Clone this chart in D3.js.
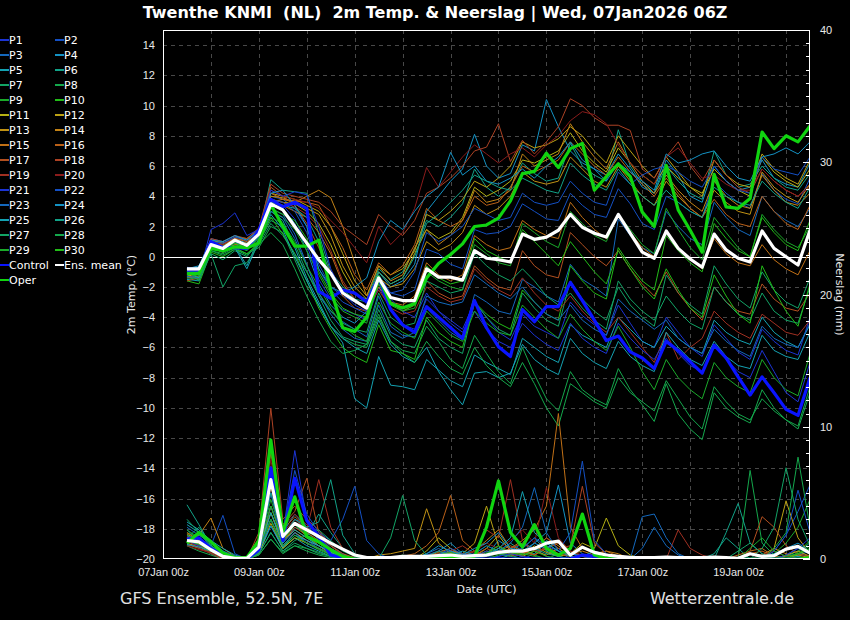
<!DOCTYPE html>
<html>
<head>
<meta charset="utf-8">
<title>Twenthe KNMI 2m Temp. & Neerslag</title>
<script src="https://cdnjs.cloudflare.com/ajax/libs/d3/7.8.5/d3.min.js"></script>
<style>
  body { margin: 0; background: #000; }
  svg { display: block; font-family: "DejaVu Sans", sans-serif; }
  .grid line { stroke: #484848; stroke-width: 1; stroke-dasharray: 4,4; shape-rendering: crispEdges; }
  .axis text { fill: #e8e8e8; font-size: 11px; }
  .axis path, .axis line { display: none; }
  .legend text { fill: #fff; font-size: 11px; }
</style>
</head>
<body>
<svg id="chart" width="850" height="620"></svg>
<script>
// forecast hours after the 07Jan2026 06Z run
const hours = [6,12,18,24,30,36,42,48,54,60,66,72,78,84,90,96,102,108,114,120,126,132,138,144,150,156,162,168,174,180,186,192,198,204,210,216,222,228,234,240,246,252,258,264,270,276,282,288,294,300,306,312,318];

// 2m temperature (°C), one array per member
const tP1 = [-1.2,-1.0,0.9,0.6,0.9,0.6,1.6,3.6,3.4,2.5,0.8, -1.5,-2.8,-3.5,-3.8,-4.2,-2.0,-3.5,-4.5,-4.8, -2.8,-3.6,-4.2,-4.8, -3.0,-4.0,-5.0,-5.5, -3.8,-4.6,-5.0,-5.4, -3.0,-3.9,-4.5,-5.2, -3.2,-4.4,-5.6,-6.0, -4.0,-5.0,-6.0,-6.6, -4.5,-5.4,-6.3,-6.8, -4.8,-5.6,-6.2,-6.5, -4.0];
const tP2 = [-0.9,-0.7,1.2,1.0,1.4,1.0,1.8,4.0,3.8,3.2,2.0, -0.5,-2.0,-2.6,-3.0,-3.4,-1.2,-2.4,-2.6,-2.2, 0.5,0.2,-0.5,-0.8, 1.8,1.5,1.6,2.0, 3.5,3.0,2.5,2.4, 4.2,3.4,2.8,2.6, 4.5,3.5,2.2,1.8, 4.0,3.6,3.0,2.6, 5.0,4.2,3.6,3.2, 5.5,4.4,3.8,3.5, 5.2];
const tP3 = [-1.4,-1.3,0.7,0.5,0.8,0.5,1.4,3.2,2.8,1.5,-0.5, -2.6,-3.6,-4.3,-4.8,-5.3,-2.6,-4.6,-5.2,-5.3, -3.4,-4.2,-5.0,-5.5, -2.5,-3.0,-3.6,-3.8, -1.5,-2.0,-2.6,-3.0, -0.5,-1.5,-2.0,-2.6, 2.5,1.4,0.6,0.2, 3.0,2.0,1.2,0.8, 3.6,2.6,1.8,1.4, 4.0,3.0,2.4,2.0, 3.2];
const tP4 = [-0.8,-0.6,1.1,0.9,1.2,0.9,1.6,3.4,3.2,2.2,0.4, -1.8,-3.2,-4.0,-4.4,-3.6,-1.0,-2.0,-1.6,-0.5, 3.0,4.0,5.0,5.8, 8.1,6.0,5.2,5.5, 7.4,7.0,10.4,8.6, 7.0,6.2,5.8,5.4, 6.8,5.8,4.6,4.2, 6.4,5.4,4.0,3.6, 6.0,5.0,4.4,4.6, 6.4,5.2,4.8,4.6, 6.2];
const tP5 = [-1.5,-1.6,0.6,0.3,0.7,-0.6,1.2,3.0,2.4,0.6,-1.4, -3.0,-4.6,-5.7,-9.4,-10.0,-6.6,-8.5,-8.6,-8.8, -6.8,-7.5,-8.2,-8.6, -6.5,-7.0,-7.4,-7.8, -5.4,-6.0,-6.6,-7.0, -4.5,-5.2,-5.6,-6.0, -4.0,-4.8,-5.6,-6.0, -4.6,-5.4,-6.0,-6.4, -4.2,-5.0,-5.5,-5.8, -4.0,-5.0,-5.6,-6.0, -4.5];
const tP6 = [-1.0,-1.2,0.8,0.6,1.0,0.4,1.5,5.1,4.4,4.3,4.2, 1.5,-1.0,-2.0,-2.5,-2.8,-0.8,-1.5,-1.0,0.5, 2.4,2.0,2.6,3.5, 5.8,4.6,4.0,4.6, 6.2,5.5,5.0,5.2, 7.5,6.0,5.4,5.0, 8.4,6.0,4.8,4.2, 6.0,5.0,4.2,3.8, 7.0,5.4,4.6,4.8, 6.0,5.2,4.6,4.4, 5.5];
const tP7 = [-1.3,-1.4,0.2,-0.2,0.4,0.0,1.0,2.4,2.0,0.8,-1.0, -2.6,-4.2,-5.3,-5.6,-5.8,-3.5,-5.2,-5.8,-6.0, -4.2,-5.4,-6.0,-6.4, -3.0,-4.0,-4.8,-5.2, -2.4,-3.4,-4.2,-4.6, -1.6,-2.8,-3.6,-4.2, -2.0,-3.2,-4.0,-4.6, -1.2,-2.4,-3.2,-3.8, -0.6,-1.8,-2.8,-3.4, -1.0,-2.2,-3.0,-3.4, -1.4];
const tP8 = [-1.2,-1.5,0.4,0.2,0.6,0.2,0.6,2.0,1.6,-0.2,-2.0, -3.2,-4.6,-5.4,-5.8,-6.0,-4.0,-5.6,-6.2,-6.4, -4.6,-5.6,-6.8,-7.4, -5.2,-6.4,-7.6,-8.4, -6.0,-7.8,-9.4,-10.2, -7.6,-8.8,-9.4,-9.8, -7.4,-8.8,-9.8,-10.9, -8.4,-10.4,-11.4,-12.1, -9.0,-10.0,-10.6,-11.0, -8.8,-10.0,-10.8,-11.4, -9.0];
const tP9 = [-1.1,-1.2,0.5,0.4,0.9,0.5,1.2,3.0,2.6,1.8,0.4, -1.2,-2.6,-3.6,-4.0,-4.4,-1.6,-3.0,-3.6,-3.4, -1.0,-1.6,-2.0,-2.2, 0.8,0.2,-0.4,-0.6, 2.2,1.6,1.0,0.6, 3.0,2.2,1.4,1.0, 2.8,1.8,0.8,0.2, 3.2,1.8,0.6,-0.2, 2.6,1.6,0.6,0.0, 2.8,1.8,1.0,0.6, 2.0];
const tP10 = [-1.6,-1.8,0.3,0.0,0.5,0.2,0.9,2.6,1.5,0.2,-1.6, -3.4,-4.8,-6.0,-6.6,-7.0,-4.5,-6.2,-6.4,-6.8, -4.0,-5.0,-5.6,-6.0, -3.0,-3.8,-4.4,-4.8, -2.2,-3.0,-3.8,-4.2, -0.6,-1.6,-2.4,-2.8, 0.6,-0.6,-1.6,-2.2, 1.4,0.4,-0.4,-1.0, 2.2,1.2,0.4,0.0, 2.6,1.6,0.8,0.4, 2.4];
const tP11 = [-1.3,-1.1,0.9,0.8,1.1,0.7,1.6,3.8,3.6,3.5,3.0, 2.2,0.8,-1.0,-2.4,-3.0,-1.0,-1.8,-1.4,0.2, 1.8,1.2,1.6,2.6, 4.6,4.0,4.4,5.0, 6.4,6.2,6.6,7.0, 8.2,7.0,6.2,5.6, 7.2,6.2,5.4,4.8, 6.0,5.2,4.6,4.2, 5.8,5.0,4.4,4.0, 6.6,5.6,5.0,4.6, 5.8];
const tP12 = [-1.0,-0.9,1.0,0.8,1.3,1.2,1.8,4.2,4.0,3.8,3.4, 3.0,2.0,0.2,-1.6,-2.6,-0.6,-1.2,-0.8,0.4, 2.8,2.4,3.0,3.8, 5.0,4.6,5.2,6.0, 7.6,7.2,7.4,7.8, 8.6,8.0,7.0,6.2, 8.0,7.0,6.0,5.2, 6.6,5.6,4.6,4.0, 6.4,5.4,4.8,4.6, 6.8,5.8,5.2,4.8, 6.4];
const tP13 = [-1.2,-0.8,1.1,0.9,1.2,1.1,1.7,4.0,3.9,3.6,3.2, 2.8,1.4,-0.6,-2.0,-2.8,-1.4,-2.0,-1.8,-0.8, 1.0,0.4,0.8,1.6, 3.4,2.8,3.2,4.0, 5.6,5.0,4.8,5.0, 6.6,5.8,5.0,4.6, 6.0,5.0,4.0,3.4, 5.0,4.0,3.2,2.6, 4.4,3.6,3.0,2.8, 5.6,4.6,4.0,3.6, 4.8];
const tP14 = [-0.9,-1.0,0.8,0.7,1.0,0.9,1.5,3.6,3.8,3.6,4.0, 4.4,3.9,2.0,-0.4,-2.6,-0.6,-1.6,-1.2,0.6, 1.8,0.8,1.4,2.4, 4.4,3.6,3.8,4.4, 6.8,6.0,6.4,6.8, 8.8,7.6,6.6,5.8, 7.6,6.2,5.0,4.2, 5.4,4.4,3.6,3.0, 5.0,4.0,3.4,3.2, 5.4,4.4,3.6,3.4, 4.2];
const tP15 = [-1.4,-1.3,0.6,0.3,0.8,0.8,1.4,3.6,3.4,3.0,2.6, 1.6,0.2,-1.8,-2.8,-3.4,-2.0,-3.0,-3.2,-2.6, -0.4,-1.2,-1.6,-1.2, 1.4,0.8,0.4,0.6, 2.4,1.8,1.4,1.2, 3.6,2.6,1.8,1.2, 2.8,1.6,0.6,0.0, 1.6,0.6,-0.2,-0.8, 1.2,0.2,-0.4,-0.6, 0.8,-0.2,-0.8,-1.2, 0.4];
const tP16 = [-1.1,-1.0,1.0,0.8,1.2,1.0,1.6,4.2,3.8,3.7,3.6, 3.4,2.0,0.6,-1.2,-2.2,-0.4,-1.2,-0.6,0.8, 3.2,2.4,2.0,2.4, 4.0,3.4,3.6,4.6, 6.0,5.6,6.0,6.4, 7.6,6.8,6.0,5.4, 6.6,5.6,4.8,4.0, 5.2,4.2,3.2,2.6, 3.8,2.8,2.2,2.0, 4.0,3.0,2.2,1.8, 3.4];
const tP17 = [-1.6,-1.4,0.7,0.6,1.0,0.8,1.6,4.6,4.0,3.4,2.2, 0.6,-1.0,-2.6,-3.4,-3.6,-1.8,-3.0,-3.6,-3.2, -1.6,-2.4,-2.8,-2.6, -0.6,-1.4,-2.0,-2.2, 0.4,-0.6,-1.2,-1.4, 1.6,0.8,0.0,-0.6, 0.4,-0.8,-1.8,-2.6, -1.0,-2.4,-3.4,-4.2, -2.0,-3.0,-3.6,-3.8, -1.8,-2.8,-3.4,-3.6, -2.4];
const tP18 = [-0.8,-0.9,1.2,1.0,1.4,1.2,1.9,4.8,4.2,4.0,3.8, 3.6,3.0,2.0,1.4,0.8,2.8,2.0,1.4,2.4, 4.2,4.6,5.2,6.0, 7.0,7.25,8.8,6.3, 7.7,6.8,7.6,8.6, 10.45,10.0,9.2,8.7, 8.7,8.35,5.8,5.2, 6.6,7.6,6.0,5.0, 6.4,5.4,4.6,4.2, 5.8,5.0,4.4,4.0, 4.8];
const tP19 = [-1.0,-1.1,0.9,0.7,1.1,0.8,1.5,3.8,3.6,3.3,2.8, 2.0,0.4,-1.6,-2.8,-3.6,-2.2,-3.4,-3.8,-3.6, -2.0,-2.6,-3.0,-2.8, -0.8,-1.6,-2.2,-2.6, -1.4,-2.4,-3.2,-3.6, -2.6,-3.6,-4.4,-5.0, -4.0,-5.0,-6.0,-7.0, -5.0,-6.8,-6.0,-5.4, -3.6,-4.4,-5.0,-5.4, -3.8,-4.4,-5.0,-5.2, -4.2];
const tP20 = [-1.2,-1.0,1.0,0.8,1.3,1.1,1.8,4.4,4.0,3.8,3.6, 3.2,2.4,1.6,0.6,-0.4,2.0,0.8,1.6,3.2, 5.9,4.6,5.6,6.6, 7.4,6.8,6.2,6.8, 7.2,6.6,7.4,8.0, 9.0,9.6,9.4,8.8, 7.4,6.2,5.4,4.8, 6.6,7.2,6.2,5.2, 5.4,4.8,4.4,4.4, 5.8,5.0,4.4,4.0, 4.6];
const tP21 = [-1.1,-1.2,1.8,2.2,2.9,1.4,1.8,4.4,4.0,4.3,4.1, 2.0,-0.8,-2.4,-3.2,-3.6,-1.6,-2.8,-3.6,-4.0, -2.4,-3.6,-4.4,-5.0, -3.6,-4.8,-5.6,-6.0, -4.4,-5.2,-5.8,-6.2, -4.4,-5.4,-6.0,-6.4, -4.4,-5.4,-6.2,-6.8, -5.4,-6.4,-7.2,-7.6, -5.8,-6.8,-7.6,-8.0, -6.2,-7.6,-9.0,-9.6, -7.0];
const tP22 = [-0.7,-0.8,1.0,0.9,1.3,1.1,1.8,3.8,3.6,3.0,1.6, -0.8,-2.2,-3.0,-3.4,-3.8,-1.4,-2.4,-2.2,-1.0, 1.6,1.0,1.4,2.0, 3.2,2.8,2.4,2.6, 4.2,3.6,3.4,3.6, 5.0,4.2,3.6,3.4, 5.6,4.8,5.4,5.8, 6.0,5.6,5.0,4.6, 6.0,5.0,4.4,4.2, 6.6,5.8,5.6,5.4, 6.6];
const tP23 = [-1.3,-1.4,0.8,0.6,1.0,0.5,1.3,3.0,2.6,1.2,-0.6, -2.4,-3.8,-4.8,-5.4,-5.6,-3.2,-5.0,-5.4,-5.0, -2.6,-3.0,-3.2,-3.0, -1.2,-1.8,-2.4,-2.8, -2.0,-3.0,-3.8,-4.2, -3.2,-4.2,-4.8,-5.2, -2.8,-3.6,-4.2,-4.8, -4.2,-5.4,-6.0,-6.4, -4.8,-5.6,-6.2,-6.6, -4.6,-5.4,-5.8,-6.0, -4.4];
const tP24 = [-0.8,-0.7,1.1,1.0,1.4,1.1,1.7,4.2,4.4,3.4,2.0, -0.8,-2.0,-2.4,-2.0,-1.4,1.0,2.4,1.8,3.0, 4.0,4.6,6.9,5.4, 6.0,5.0,4.8,5.2, 5.8,5.2,6.0,6.6, 7.6,6.4,5.8,5.0, 6.2,5.6,5.0,4.4, 6.8,6.2,6.4,6.8, 7.0,6.0,5.2,5.0, 6.6,6.8,7.2,6.8, 7.6];
const tP25 = [-1.0,-1.4,0.5,0.4,0.6,-0.8,1.0,2.8,1.8,0.0,-1.6, -3.2,-4.6,-5.4,-6.0,-6.4,-4.2,-5.8,-6.6,-7.0, -6.0,-7.6,-8.8,-9.8, -7.7,-7.6,-8.0,-7.7, -5.8,-6.8,-7.4,-7.8, -5.4,-6.4,-7.0,-7.4, -5.6,-6.6,-7.2,-7.6, -5.0,-6.0,-6.8,-7.2, -5.6,-6.6,-7.2,-7.4, -5.2,-6.2,-6.6,-6.8, -5.0];
const tP26 = [-1.2,-1.0,0.9,0.7,1.1,0.8,1.5,3.6,3.4,3.2,2.6, 1.0,-1.2,-2.2,-2.8,-3.0,-1.0,-1.8,-1.4,0.0, 2.2,2.8,3.6,4.4, 5.4,5.0,4.6,4.4, 5.2,4.8,4.4,4.2, 6.2,5.4,4.8,4.4, 5.8,4.8,4.0,3.4, 4.4,3.6,3.0,2.6, 4.6,4.0,3.6,3.4, 5.0,4.2,3.6,3.2, 4.6];
const tP27 = [-0.9,-1.6,0.2,-2.0,-0.6,-0.4,0.8,2.2,1.4,0.2,-1.0, -2.4,-3.6,-4.4,-4.8,-5.0,-2.4,-4.0,-4.6,-4.4, -1.6,-2.0,-2.4,-2.2, 0.2,-0.6,-1.2,-1.6, -0.8,-1.6,-2.6,-3.2, -2.4,-3.4,-4.2,-4.8, -1.6,-2.8,-3.6,-4.2, -2.6,-3.6,-4.4,-4.8, -2.0,-3.0,-3.8,-4.2, -2.4,-3.6,-4.2,-4.4, -2.0];
const tP28 = [-1.4,-1.5,0.4,0.1,0.5,0.1,0.8,1.6,0.8,-0.8,-2.6, -4.2,-5.6,-6.4,-6.2,-5.8,-3.8,-5.6,-6.4,-7.0, -5.6,-6.6,-7.4,-7.8, -6.0,-7.2,-8.0,-8.6, -7.0,-8.4,-10.0,-11.2, -8.4,-9.0,-9.6,-10.0, -8.0,-9.0,-9.6,-10.2, -8.2,-9.4,-10.6,-11.4, -8.6,-9.6,-10.4,-10.8, -9.4,-10.2,-10.8,-11.2, -8.6];
const tP29 = [-1.1,-1.3,0.6,0.3,0.7,0.4,1.2,2.6,2.2,1.0,-0.6, -2.0,-3.4,-4.6,-5.2,-5.6,-3.0,-4.4,-5.0,-5.4, -3.6,-4.4,-5.2,-5.6, -3.6,-4.4,-5.0,-5.2, -3.2,-4.0,-4.8,-5.4, -3.8,-4.8,-5.6,-6.2, -4.6,-6.0,-7.6,-8.8, -6.8,-8.0,-8.8,-9.4, -7.0,-8.0,-8.6,-9.0, -6.8,-8.0,-8.8,-9.2, -6.4];
const tP30 = [-1.0,-1.2,0.6,0.5,0.9,0.6,1.4,3.2,2.8,2.4,1.2, -1.0,-2.4,-3.4,-3.8,-4.0,-1.8,-3.2,-3.6,-3.2, -0.6,-1.4,-1.8,-1.6, 1.2,0.4,0.0,-0.4, 1.8,1.0,0.2,-0.6, 1.0,0.0,-1.0,-1.8, 0.4,-0.8,-2.0,-2.8, -0.8,-2.2,-3.4,-4.0, -1.2,-2.6,-3.8,-4.4, -0.6,-2.2,-3.6,-4.6, -1.8];
const tControl = [-1.0,-1.0,1.0,0.6,0.6,0.55,1.75,3.8,3.3,3.6,3.2, -2.3,-2.75,-2.2,-2.4,-3.0,-1.4,-3.5,-4.5,-5.0, -3.3,-4.0,-4.7,-5.4, -2.9,-4.7,-5.95,-6.6, -3.5,-4.3,-3.3,-3.3, -1.7,-2.9,-4.2,-5.55, -5.25,-6.3,-6.7,-7.4, -5.6,-6.2,-6.95,-7.7, -5.85,-6.7,-7.95,-9.15, -7.95,-9.0,-10.1,-10.5, -8.0];
const tOper = [-1.1,-1.1,0.55,0.4,0.65,0.6,0.9,3.45,2.0,0.7,0.7, 1.1,-2.2,-4.7,-4.95,-4.0,-1.35,-3.1,-3.4,-3.1, -1.4,-0.45,0.15,0.85, 2.0,2.1,2.55,3.7, 5.5,5.65,6.85,5.9, 7.15,7.5,4.4,5.3, 6.15,5.3,2.95,2.0, 6.05,3.1,1.75,0.3, 5.45,3.3,3.2,3.85, 8.25,7.15,8.0,7.6, 8.65];
const tMean = [-0.8,-0.8,0.8,0.55,1.1,0.75,1.5,3.5,3.1,2.0,0.9, -0.2,-1.1,-2.4,-2.9,-3.4,-1.4,-2.7,-2.9,-2.9, -0.8,-1.35,-1.35,-1.55, 0.4,-0.1,-0.2,-0.35, 1.5,1.15,1.3,1.75, 2.8,1.95,1.55,1.3, 2.8,1.55,0.3,-0.1, 1.7,0.55,-0.15,-0.7, 1.5,0.45,-0.1,-0.35, 1.7,0.55,0.0,-0.55, 1.75];

// Neerslag (mm per 6h), one array per member
const rP1 = [1.8,1.2,0.6,0.2,0,0,0.8,5.0,1.2,2.4,2.0,1.2,0.6,0.2, 0,0,0,0,0.1,0,0,0.2,0.1,0,0,0.3,0.8,0.4, 0.2,0,0,0,0,0,0,0,0,0,0,0,0, 0,0,0,0,0,0,0,0,0,0.2,0.4,0.2];
const rP2 = [1.2,1.6,1.0,3.3,0.4,0,0.6,4.0,1.6,3.0,2.6,1.4,0.8,0.3, 0.1,0,0,0,0,0.2,0.3,0.6,0.2,0,0.1,0.2,0.1,0, 0,0.4,1.2,0.6,0,0,0,0,0,0.1,0,0,0, 0,0,0,0,0,0,0,0,0.6,1.8,3.6,5.6];
const rP3 = [2.2,1.4,0.4,0,0,0,1.0,3.0,1.0,2.0,1.4,0.8,0.3,0, 0,0,0,0,0,0,0.4,0.8,0.3,0,0,0,0.2,0.6, 1.2,0.8,0.2,0,0,0,0.3,0.4,0,0,0.8,2.4,1.0, 0.3,0,0,0,0,0,0,0,0,0,0.3,0.6];
const rP4 = [1.0,1.3,0.8,0.2,0,0,1.2,6.0,2.0,3.4,2.4,1.6,1.0,0.4, 0,0,0,0,0,0,0.2,0.6,1.2,0.4,0,0.3,1.4,0.8, 0.4,1.2,2.0,5.6,1.2,0.4,0,0,0,0,0,0,0, 0,0,0,0,0,0,0,0,0,0.3,0.8,0.4];
const rP5 = [2.6,2.0,1.0,0.4,0,0,0.4,2.5,0.8,1.6,1.0,0.6,0.2,0, 0,0,0,0,0,0,0,0.2,0.5,0.2,0,0,0,0.3, 0.8,1.6,0.6,0.2,0,0,0,0,0,0,0,0,0, 0,0,0,0,0,0,0,0,0,0,0.2,0];
const rP6 = [1.4,1.0,0.4,0,0,0,0.6,3.5,1.4,2.6,1.8,3.4,2.0,0.8, 0.3,0,0,0,0,0,0.1,0.4,0.6,0.2,0,0.3,0.6,1.2, 0.6,0.4,1.4,0.8,0.2,0,0,0,0,0,0,0,0, 0,0,0,0.4,1.6,0.8,0,0,0,0.2,0.6,1.2];
const rP7 = [1.6,2.4,1.2,0.6,0.2,0,0.4,2.0,0.6,1.2,0.8,0.4,0.2,0, 0,0,0,0,0,0,0,0.2,0,0,0,0.5,1.0,0.3, 0,0,0,0,0,0,0,0,0,0,0,0,0, 0,0,0,0,0,0.6,1.2,0.4,0,0,0.3,0.8];
const rP8 = [1.0,0.6,0.3,0,0,0,0.3,1.5,0.5,1.0,0.6,0.3,0.1,0, 0,0,0,0,0,0,0,0,0.2,0.4,0,0,0,0, 0,0,0,0,0,0,0,0,0,0,0,0,0, 0,0,0,0,0,0,6.7,1.2,0.3,0,0,0];
const rP9 = [2.0,1.6,0.8,0.3,0,0,0.9,4.5,1.6,2.8,1.6,1.0,0.4,0.1, 0,0,0,0,0.3,0,0,0.2,0,0,0.4,1.0,0.6,0.3, 0.8,0.3,0,0.4,0.2,0,0,0,0,0,0,0,0, 0,0,0,0,0,0,0,0,0.4,1.2,2.4,4.5];
const rP10 = [1.3,1.8,1.4,0.6,0.1,0,0.5,3.0,0.8,1.8,1.2,0.7,0.3,0, 0,0,0,0,0,0,0,0,0.2,0,0,0,0,0, 0,0,0,0,0,0,0,0,0,0,0,0,0, 0,0,0,0,0,0,0,0,0,0,0.5,1.4];
const rP11 = [1.5,1.1,0.5,0.2,0,0,0.4,2.7,0.8,1.6,1.2,0.8,0.4,0.1, 0,0,0,0,0,0,0.6,1.6,0.8,0.3,0.2,0.8,1.8,0.6, 0.3,1.0,0.5,0.2,0.4,1.2,0.8,3.1,1.0,0.3,0,0,0, 0,0,0,0,0,0,0,0,0,0.3,0.6,0.2];
const rP12 = [1.9,1.3,0.6,0.1,0,0,0.8,3.5,1.0,2.0,1.4,1.0,0.5,0.2, 0,0,0,0,0,0,0,0.3,0.6,0.4,1.2,4.0,1.0,0.4, 0.6,0.3,0.8,1.4,0.6,0.2,0.3,0.4,0,0,0,0,0, 0,0,0,0,0,0,0,0,0.8,4.4,1.6,0.4];
const rP13 = [1.2,0.9,0.7,0.2,0,0,0.6,4.0,1.4,2.2,1.6,1.2,0.6,0.2, 0,0,0.3,0.4,0.6,0.8,3.8,1.2,0.4,0.2,0,0.3,0.6,0.4, 0.2,0.6,0.3,0.8,0.2,0,0,0.3,0,0,0,0,0, 0,0,0,0,0,0,0,0,0,0.2,0.3,0.1];
const rP14 = [1.6,1.8,3.1,0.8,0.2,0,1.0,5.5,1.8,2.6,2.0,1.4,0.8,0.2, 0,0,0,0,0,0,0.2,0.5,0.8,0.3,0.6,1.4,2.2,0.8, 0.4,0.8,1.6,1.0,0.4,0.6,0.3,0.6,0.4,0,0,0,0, 0,0,0,0,0,0,0,0.3,0.8,0.4,0,0.2];
const rP15 = [2.0,1.4,0.9,0.3,0,0,1.2,6.5,1.4,2.4,1.8,1.0,0.4,0, 0,0,0,0,0,0,0,0.2,0.6,0.4,0.2,0.6,0.4,0.8, 1.4,2.2,4.0,11.0,2.4,0.8,0.4,0.6,0.2,0,0,0,0, 0,0,0,0,0,0.3,0.6,0.8,0.2,0,0,0];
const rP16 = [1.1,0.8,0.5,0.1,0,0,1.4,7.0,2.2,3.2,2.4,1.6,0.8,0.3, 0.1,0,0,0,0.2,0.4,1.0,2.0,4.8,1.4,0.6,0.3,0.6,1.0, 0.6,0.3,1.0,0.4,0.2,0,0,0,0,0,0,0,0, 0,0,0,0,0,0,0.4,0.6,0.2,0,0,0];
const rP17 = [1.7,1.2,0.6,0.1,0,0,1.6,8.0,2.6,3.6,6.1,2.0,1.0,0.4, 0.1,0,0,0,0,0,0.2,0.4,0.2,0,0.3,0.8,0.4,0.2, 0.5,0.3,0.8,1.2,0.4,0.2,0,0,0,0,0,0,0, 0,0,0,0,0,0,0.6,3.2,2.4,1.0,0.4,0.2];
const rP18 = [1.3,1.0,0.7,0.3,0,0,2.0,11.4,3.0,4.0,3.0,2.2,1.0,0.3, 0,0,0,0,0,0,0,0.3,0.5,0.2,0,0.2,0.4,0.8, 1.2,0.6,1.6,0.8,1.0,5.5,1.2,0.4,0,0,0,0,0, 0,0,0,0,0,0,0,0,0,0,0,0];
const rP19 = [1.5,0.8,0.4,0,0,0,1.3,6.0,2.0,3.0,2.2,6.0,2.4,0.8, 0.2,0,0,0,0,0,0,0.2,0.6,1.0,0.4,2.2,1.6,6.0, 1.4,0.6,0.8,0.3,0.4,0.2,0,0,0,0,0,0,0, 2.2,0.8,0.3,0,0,0,0,0,0,0,0,0];
const rP20 = [1.0,0.7,0.5,0.2,0,0,1.5,7.5,2.4,3.4,2.6,1.8,0.8,0.2, 0,0,0,0,0,0,0.2,0.6,0.4,0.3,0.6,1.2,0.8,1.4, 2.2,1.2,5.4,1.6,0.6,0.3,0.2,0,0,0,0,0,0, 0,0,0,0,0,0,0,0.3,0.6,0.2,0,0];
const rP21 = [1.4,1.0,0.8,0.4,0.1,0,0.9,4.0,1.8,8.2,3.0,1.6,0.8,0.3, 0,0,0,0,0,0,0,0,0.2,0,0,0,0.2,0.4, 0.2,0,0,0,0,0,0,0,0,0,0,0,0, 0,0,0,0,0,0,0,0,0,0.3,0.8,1.6];
const rP22 = [1.6,1.3,0.9,0.3,0,0,1.1,5.0,2.0,6.7,3.4,2.0,1.4,3.0, 5.5,1.4,0.4,0,0,0,0,0.3,0.8,0.4,0.2,0.6,0.4,0.6, 0.8,1.6,1.0,0.6,2.0,7.4,1.4,0.4,0,0,0,0,0, 0,0,0,0,0,0,0,0,0.6,1.8,5.2,2.0];
const rP23 = [2.4,1.8,1.2,0.6,0.2,0,0.5,3.0,1.0,2.0,1.2,0.8,0.4,0.1, 0,0,0,0,0,0,0,0.3,0.6,0.2,0.4,1.0,0.6,1.2, 2.4,5.4,2.0,0.6,0.4,0.2,0,0,0,0,3.2,3.4,1.6, 0.4,0,0,0,0,0,0,0,0,0,0,0];
const rP24 = [1.1,0.9,0.6,0.2,0,0,0.7,2.5,0.9,1.8,1.4,1.0,0.6,0.2, 0,0,0,0,0,0,0.4,1.0,0.6,0.3,0.8,1.2,2.0,0.8, 0.6,1.2,0.8,1.4,0.4,0.2,0.6,0.3,0,0,0,0,0, 0,0,0,0,0,0,0,0,0.4,0.8,1.2,0.6];
const rP25 = [2.8,2.2,1.4,0.8,0.3,0,0.6,3.5,1.2,2.2,1.6,1.0,0.5,0.1, 0,0,0,0,0,0,0,0,0.2,0.6,0.3,0.2,0.8,1.6, 5.1,2.0,1.2,0.6,0.2,0,0,0,0,0,0,0,0, 0,0,0,0,0,0,0,0,0,0,0,0];
const rP26 = [4.1,2.6,1.0,0.4,0,0,0.8,5.0,1.6,3.0,2.4,2.8,6.0,1.8, 0.4,0,0,0,0,0,0.2,0.6,0.3,0,0,0.4,0.8,0.5, 0.6,0.8,0.4,0.2,0,0,0,0,0,0,0,0,0, 0,0,0,0,2.0,4.2,1.2,0.4,0,0,0,0];
const rP27 = [3.0,2.0,0.9,0.4,0.2,0,0.4,2.0,0.6,1.4,1.8,2.2,1.4,0.6, 0.2,0,0,1.6,4.8,1.4,0.3,0,0,0,0,0.2,0.4,0.2, 0,0,0,0,0,0,0,0,0,0,0,0,0, 0,0,0,0,0,0,0,0.8,2.4,6.9,3.0,1.0];
const rP28 = [1.8,1.5,0.8,0.3,0,0,0.3,1.5,0.4,1.0,0.8,0.5,0.2,0, 0,0,0,0,0,0,0,0,0,0,0,0,0,0, 0,0,0,0,0,0,0,0,0,0,0,0,0, 0,0,0,0,0,0,0,0,0.8,2.0,7.7,2.4];
const rP29 = [2.2,1.6,0.9,0.4,0,0,0.7,3.0,1.0,1.8,1.2,0.8,0.4,0.1, 0,0,0,0,0,0,0,0.2,0.4,0.2,0,0,0.3,0.6, 0.4,0.2,0,0,0,0,0,0,0,0,0,0,0, 0,0,0,0,0,0,0.8,1.6,0.6,0.2,0.4,1.0];
const rP30 = [1.4,1.1,0.6,0.2,0,0,0.8,4.0,1.4,2.6,1.8,1.2,0.6,0.2, 0,0,0,0,0,0,0,0.3,0.5,0.2,0,0.4,1.0,0.5, 0.3,0.6,0.2,0,0,0,0,0,0,0,0,0,0, 0,0,0,0,0,0,0,0,0,0,0.4,0.8];
const rControl = [1.5,1.6,0.8,0.3,0.05,0,0.7,6.9,1.4,6.1,2.9,1.7,0.3,0.1, 0,0,0,0,0,0,0,0,0,0,0,0,0,0, 0,0,0,0,0,0.3,0.2,0,0,0,0,0,0, 0,0,0,0,0,0,0,0,0,0,0,0];
const rOper = [1.2,2.0,1.3,0.45,0.1,0.1,1.4,9.0,2.0,4.7,1.7,1.3,0.7,0.2, 0,0,0,0,0.05,0.1,0.1,0.2,0.15,0.1,0.2,2.4,5.9,2.0, 0.9,2.6,0.8,0.3,0.8,3.4,0.3,0.05,0,0,0,0,0, 0,0,0,0,0,0,0,0,0,0,0,0.1];
const rMean = [1.4,1.3,0.7,0.2,0.05,0.05,0.9,6.0,1.7,2.7,2.2,1.7,1.2,0.75, 0.3,0.1,0.1,0.1,0.2,0.2,0.2,0.25,0.3,0.2,0.25,0.3,0.5,0.6, 0.6,0.8,1.2,1.35,0.3,0.9,0.5,0.3,0.2,0.12,0.1,0.1,0.15, 0.1,0.1,0.1,0.15,0.1,0.05,0.4,0.2,0.25,0.75,0.95,0.45];

const tempMembers = [tP1,tP2,tP3,tP4,tP5,tP6,tP7,tP8,tP9,tP10,tP11,tP12,tP13,tP14,tP15,tP16,tP17,tP18,tP19,tP20,tP21,tP22,tP23,tP24,tP25,tP26,tP27,tP28,tP29,tP30];
const rainMembers = [rP1,rP2,rP3,rP4,rP5,rP6,rP7,rP8,rP9,rP10,rP11,rP12,rP13,rP14,rP15,rP16,rP17,rP18,rP19,rP20,rP21,rP22,rP23,rP24,rP25,rP26,rP27,rP28,rP29,rP30];

const tempTicks = [-20,-18,-16,-14,-12,-10,-8,-6,-4,-2,0,2,4,6,8,10,12,14];
const rainTicks = [0,10,20,30,40];

// colours P1..P20, P21..P30 repeat the first ten
const baseColors = ["#1c34d4","#1450c4","#1468bc","#1492c4","#14a2b2","#12a288","#12a466","#14a84c","#1aaa2a","#22bc18",
                    "#b4b014","#bca214","#c09214","#c28216","#c07016","#ba6018","#b25020","#ac4224","#a03022","#8a1c1c"];
const memberColors = baseColors.concat(baseColors.slice(0, 10));

[...tempMembers, ...rainMembers, tControl, tOper, tMean, rControl, rOper, rMean].forEach((s, k) => {
    if (s.length !== hours.length) throw new Error("series " + k + " has " + s.length + " values");
});

const margin = {top: 30, right: 40, bottom: 61, left: 163};
const width = 850 - margin.left - margin.right;
const height = 620 - margin.top - margin.bottom;

const runTime = Date.UTC(2026, 0, 7, 6);
const times = hours.map(h => new Date(runTime + h * 3600e3));

const svg = d3.select("#chart");
svg.append("rect").attr("width", 850).attr("height", 620).attr("fill", "#000");

const x = d3.scaleUtc()
    .domain([new Date(Date.UTC(2026, 0, 7, 0)), new Date(Date.UTC(2026, 0, 20, 12))])
    .range([0, width]);
const yT = d3.scaleLinear().domain([-20, 15]).range([height, 0]);
const yR = d3.scaleLinear().domain([0, 40]).range([height, 0]);

const g = svg.append("g").attr("transform", `translate(${margin.left},${margin.top})`);

g.append("clipPath").attr("id", "plot-clip")
    .append("rect").attr("width", width).attr("height", height);

// dashed grid: every day and every 2 degrees
const gridDays = d3.utcDay.range(new Date(Date.UTC(2026, 0, 8)), x.domain()[1]);
const grid = g.append("g").attr("class", "grid");
grid.selectAll(".gx").data(gridDays).join("line")
    .attr("class", "gx")
    .attr("x1", d => Math.round(x(d)) + 0.5).attr("x2", d => Math.round(x(d)) + 0.5)
    .attr("y1", 0).attr("y2", height);
grid.selectAll(".gy").data(tempTicks.filter(d => d !== 0 && d !== -20)).join("line")
    .attr("class", "gy")
    .attr("x1", 0).attr("x2", width)
    .attr("y1", d => Math.round(yT(d)) + 0.5).attr("y2", d => Math.round(yT(d)) + 0.5);

// zero line
g.append("line")
    .attr("x1", 0).attr("x2", width)
    .attr("y1", Math.round(yT(0)) + 0.5).attr("y2", Math.round(yT(0)) + 0.5)
    .attr("stroke", "#fff").attr("stroke-width", 1);

const tempLine = d3.line().x((d, i) => x(times[i])).y(d => yT(d));
const rainLine = d3.line().x((d, i) => x(times[i])).y(d => yR(d));

const lines = g.append("g").attr("clip-path", "url(#plot-clip)")
    .attr("fill", "none").attr("stroke-linejoin", "round");

tempMembers.forEach((s, k) => {
    lines.append("path").attr("d", tempLine(s)).attr("stroke", memberColors[k]).attr("stroke-width", 1);
});
rainMembers.forEach((s, k) => {
    lines.append("path").attr("d", rainLine(s)).attr("stroke", memberColors[k]).attr("stroke-width", 1);
});

const mains = [
    {t: tControl, r: rControl, color: "#0a14ff"},
    {t: tOper, r: rOper, color: "#10d410"},
    {t: tMean, r: rMean, color: "#ffffff"}
];
mains.forEach(m => {
    lines.append("path").attr("d", tempLine(m.t)).attr("stroke", m.color).attr("stroke-width", 3.2);
    lines.append("path").attr("d", rainLine(m.r)).attr("stroke", m.color).attr("stroke-width", 3.2);
});

// frame
g.append("rect")
    .attr("x", 0.5).attr("y", 0.5).attr("width", width - 1).attr("height", height - 1)
    .attr("fill", "none").attr("stroke", "#fff").attr("stroke-width", 1)
    .style("shape-rendering", "crispEdges");

// axes
g.append("g").attr("class", "axis")
    .call(d3.axisLeft(yT).tickValues(tempTicks).tickSize(0).tickPadding(8));

const xTicks = d3.utcDay.every(2).range(new Date(Date.UTC(2026, 0, 7)), x.domain()[1]);
g.append("g").attr("class", "axis")
    .attr("transform", `translate(0,${height})`)
    .call(d3.axisBottom(x).tickValues(xTicks).tickFormat(d3.utcFormat("%d%b %Hz")).tickSize(0).tickPadding(9));

g.append("g").attr("class", "axis")
    .attr("transform", `translate(${width},0)`)
    .call(d3.axisRight(yR).tickValues(rainTicks).tickSize(0).tickPadding(10));

// inward minor ticks on the rain axis, 1 mm apart
g.append("g").selectAll("line").data(d3.range(0, 41)).join("line")
    .attr("x1", d => width - (d % 10 === 0 ? 7 : 4)).attr("x2", width)
    .attr("y1", d => Math.round(yR(d)) + 0.5).attr("y2", d => Math.round(yR(d)) + 0.5)
    .attr("stroke", "#fff").attr("stroke-width", 1);

// axis titles
svg.append("text")
    .attr("transform", `translate(135,${margin.top + height / 2}) rotate(-90)`)
    .attr("text-anchor", "middle").attr("fill", "#e8e8e8").style("font-size", "11px")
    .text("2m Temp. (°C)");
svg.append("text")
    .attr("transform", `translate(836,${margin.top + height / 2}) rotate(90)`)
    .attr("text-anchor", "middle").attr("fill", "#e8e8e8").style("font-size", "11px")
    .text("Neerslag (mm)");
svg.append("text")
    .attr("x", margin.left + width / 2).attr("y", 593)
    .attr("text-anchor", "middle").attr("fill", "#e8e8e8").style("font-size", "11px")
    .text("Date (UTC)");

// title and footer
svg.append("text")
    .attr("x", 435).attr("y", 18)
    .attr("text-anchor", "middle").attr("fill", "#fff")
    .style("font-size", "16px").style("font-weight", "bold")
    .style("white-space", "pre")
    .text("Twenthe KNMI  (NL)  2m Temp. & Neerslag | Wed, 07Jan2026 06Z");
svg.append("text")
    .attr("x", 120).attr("y", 604).attr("fill", "#e0e0e0")
    .style("font-size", "16px")
    .text("GFS Ensemble, 52.5N, 7E");
svg.append("text")
    .attr("x", 794).attr("y", 604).attr("text-anchor", "end").attr("fill", "#e0e0e0")
    .style("font-size", "16px")
    .text("Wetterzentrale.de");

// legend, two columns
const legendItems = memberColors.map((c, k) => ({name: "P" + (k + 1), color: c}))
    .concat([{name: "Control", color: "#0a14ff"}, {name: "Ens. mean", color: "#ffffff"}, {name: "Oper", color: "#10d410"}]);
const legend = svg.append("g").attr("class", "legend");
legendItems.forEach((d, k) => {
    const col = k % 2, row = Math.floor(k / 2);
    const lx = col * 55, ly = 40 + row * 15;
    legend.append("line")
        .attr("x1", lx).attr("x2", lx + 9).attr("y1", ly).attr("y2", ly)
        .attr("stroke", d.color).attr("stroke-width", 2);
    legend.append("text")
        .attr("x", lx + 9).attr("y", ly + 4)
        .text(d.name);
});
</script>
</body>
</html>
